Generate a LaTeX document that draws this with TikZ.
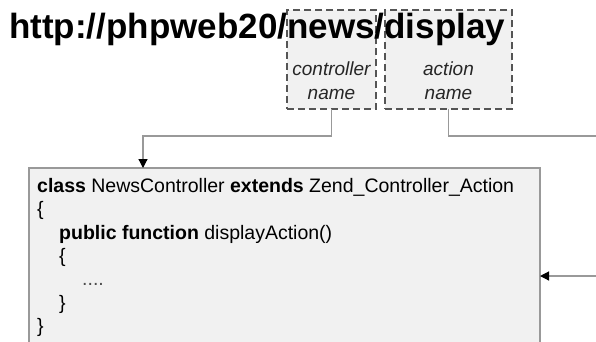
\documentclass[tikz,border=0pt]{standalone}
\usepackage{fontspec}
\setmainfont{Liberation Sans}
\usetikzlibrary{arrows.meta}
\definecolor{boxfill}{HTML}{F1F1F1}
\definecolor{dashcol}{HTML}{555555}
\definecolor{linecol}{HTML}{999999}
\tikzset{
  dashbox/.style={draw=dashcol, fill=boxfill, line width=1.6pt, dash pattern=on 7pt off 4pt, inner sep=0pt, outer sep=0pt},
  codebox/.style={draw=linecol, fill=boxfill, line width=1.2pt, inner sep=0pt, outer sep=0pt, anchor=north west},
  lbl/.style={font=\fontsize{19}{22}\selectfont\itshape, text=black!85, inner sep=0pt, anchor=base},
  codeline/.style={font=\fontsize{19.5}{23}\selectfont, inner sep=0pt, anchor=base west},
  conn/.style={draw=linecol, line width=1.2pt},
  tip/.style={-{Triangle[width=9pt,length=9pt,color=black]}}
}
\begin{document}
\begin{tikzpicture}[x=1pt,y=-1pt]
\useasboundingbox (0,0) rectangle (596,341);
\clip (0,0) rectangle (596,341);
% dashed boxes
\node (ctrl) [dashbox, minimum width=89pt, minimum height=99pt] at (331.5,59.5) {};
\node (act) [dashbox, minimum width=127pt, minimum height=99pt] at (448.5,59.5) {};
% title
\node (url) [font=\fontsize{35}{40}\selectfont\bfseries, inner sep=0pt, anchor=base west] at (9,38) {http://phpweb20/news/display};
% labels
\node (c1) [lbl] at (331.5,75) {controller};
\node (c2) [lbl] at (331.5,99) {name};
\node (a1) [lbl] at (448.5,75) {action};
\node (a2) [lbl] at (448.5,99) {name};
% code box
\node (code) [codebox, minimum width=511pt, minimum height=200pt] at (29,168) {};
\node (l1) [codeline] at (37,192) {\textbf{class} NewsController \textbf{extends} Zend\_Controller\_Action};
\node (l2) [codeline] at (37,215.5) {\{};
\node (l3) [codeline] at (59,239) {\textbf{public function} displayAction()};
\node (l4) [codeline] at (59,262) {\{};
\node (l5) [codeline, text=black!70] at (82,285) {....};
\node (l6) [codeline] at (59,309) {\}};
\node (l7) [codeline] at (37,332) {\}};
% connectors
\coordinate (k1) at (143,136);
\coordinate (e1) at (597,136);
\coordinate (e2) at (597,276);
\draw[conn, tip] (ctrl.south) |- (k1) -- (k1 |- code.north);
\draw[conn] (act.south) |- (e1);
\draw[conn, tip] (e2) -- (e2 -| code.east);
\end{tikzpicture}
\end{document}
